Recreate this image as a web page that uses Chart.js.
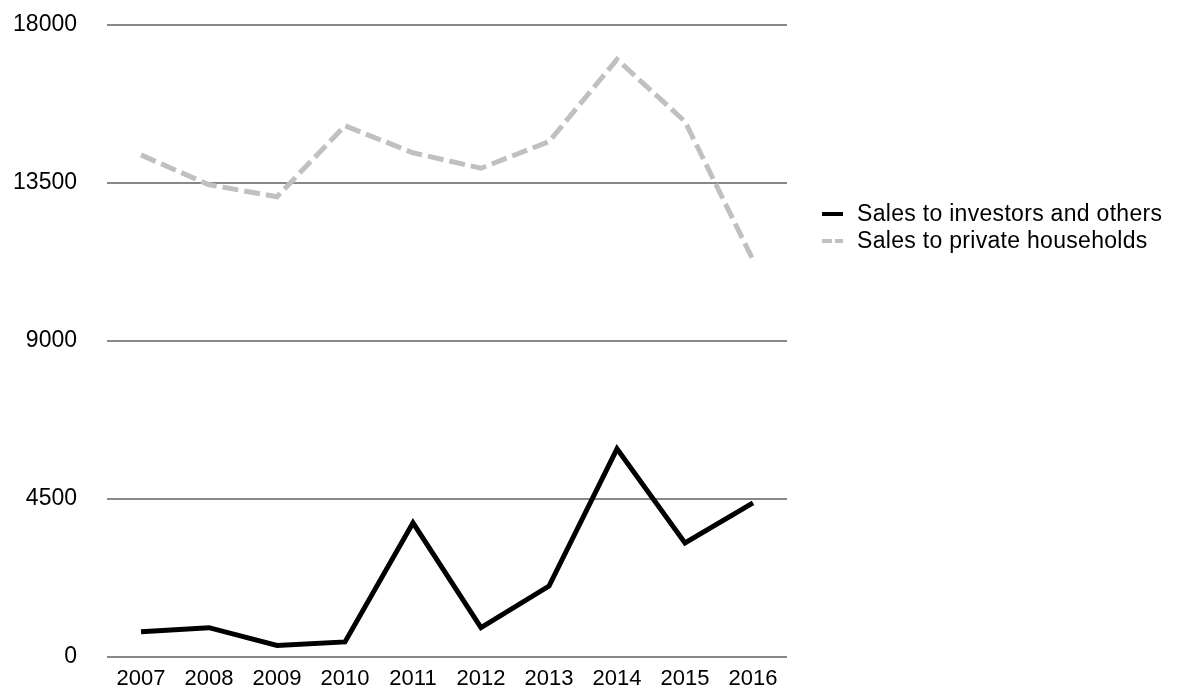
<!DOCTYPE html>
<html>
<head>
<meta charset="utf-8">
<script src="https://cdn.jsdelivr.net/npm/chart.js@4/dist/chart.umd.min.js"></script>
<style>
  html,body{margin:0;padding:0;background:#fff;}
  #wrap{position:relative;width:1178px;height:690px;}
  #legend{position:absolute;left:822px;top:200px;font-family:"Liberation Sans",Arial,sans-serif;font-size:23px;letter-spacing:0.3px;color:#000;line-height:27px;}
  #legend .row{display:flex;align-items:center;white-space:nowrap;}
  #legend .swatch{width:21px;height:4px;margin-right:14px;}
  #legend .solid{background:#000;}
  #legend .dash{background:linear-gradient(to right,#c0c0c0 0 10px,transparent 10px 13px,#c0c0c0 13px 21px);}
</style>
</head>
<body>
<div id="wrap">
  <canvas id="chart" width="1178" height="690"></canvas>
  <div id="legend"></div>
</div>
<script>
// Sales by year
const years = ['2007','2008','2009','2010','2011','2012','2013','2014','2015','2016'];
const investors = [720, 835, 330, 430, 3820, 835, 2020, 5930, 3250, 4390];
const households = [14300, 13450, 13110, 15130, 14360, 13920, 14680, 17020, 15250, 11310];
const yTicks = [0, 4500, 9000, 13500, 18000];

const seriesNames = ['Sales to investors and others', 'Sales to private households'];

const fontFamily = '"Liberation Sans", Arial, sans-serif';

const chart = new Chart(document.getElementById('chart'), {
  type:'line',
  data:{
    labels: years,
    datasets:[
      {
        label: seriesNames[0],
        data: investors,
        borderColor:'#000',
        borderWidth:5,
        pointRadius:0,
        tension:0,
        borderJoinStyle:'miter'
      },
      {
        label: seriesNames[1],
        data: households,
        borderColor:'#c0c0c0',
        borderWidth:5,
        borderDash:[16,6],
        pointRadius:0,
        tension:0,
        borderJoinStyle:'miter'
      }
    ]
  },
  options:{
    responsive:false,
    animation:false,
    layout:{padding:{top:25, right:391, bottom:0, left:0}},
    plugins:{legend:{display:false}, tooltip:{enabled:false}},
    scales:{
      x:{
        offset:true,
        grid:{display:false, drawTicks:false},
        border:{display:false},
        ticks:{color:'#000', font:{family:fontFamily, size:22}, padding:9, maxRotation:0},
        afterFit(scale){ scale.height = 33; }
      },
      y:{
        min:0, max:18000,
        afterBuildTicks(scale){ scale.ticks = yTicks.map(v=>({value:v})); },
        grid:{color:'#888', lineWidth:2, drawTicks:false},
        border:{display:false},
        ticks:{color:'#000', font:{family:fontFamily, size:23}, padding:30, callback:v=>String(v)},
        afterFit(scale){
          // fixed axis width; label padding should not push the plot down
          scale.width = 107;
          scale.paddingTop = 0;
          scale.paddingBottom = 0;
        }
      }
    }
  }
});

// Legend beside the plot
const legend = document.getElementById('legend');
seriesNames.forEach((name,i)=>{
  const row = document.createElement('div');
  row.className = 'row';
  row.innerHTML = '<span class="swatch '+(i===0?'solid':'dash')+'"></span><span>'+name+'</span>';
  legend.appendChild(row);
});
</script>
</body>
</html>
